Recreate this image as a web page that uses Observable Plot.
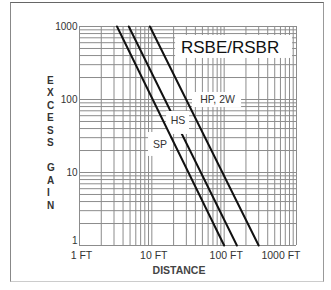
<!DOCTYPE html>
<html><head><meta charset="utf-8">
<script src="https://cdn.jsdelivr.net/npm/d3@7"></script>
<script src="https://cdn.jsdelivr.net/npm/@observablehq/plot@0.6"></script>
<style>
body{margin:0;background:#fff;font-family:Arial,"Liberation Sans",sans-serif;}
#wrap{position:relative;width:331px;height:290px;overflow:hidden;}
#border{position:absolute;left:10px;top:2px;width:312px;height:278px;border-top:1px solid #666;border-left:1px solid #888;border-right:1px solid #999;border-bottom:1px solid #ccc;pointer-events:none;}
#chart{position:absolute;left:0;top:0;}
</style></head><body><div id="wrap"><div id="chart"></div><div id="border"></div></div>
<script>
// Tick labels
const distanceTicks = [1, 10, 100, 1000];
const gainTicks = [1, 10, 100, 1000];
// Log grid lines
const gridValues = [1,2,3,4,5,6,7,8,9,10,20,30,40,50,60,70,80,90,100,200,300,400,500,600,700,800,900,1000];
// Series (endpoints)
const seriesNames = ["SP", "HS", "HP, 2W"];
const spDistance = [3.3, 100];
const spGain = [1000, 1];
const hsDistance = [4.8, 150];
const hsGain = [1000, 1];
const hpDistance = [9.4, 300];
const hpGain = [1000, 1];
// Annotations
const labelText = ["SP", "HS", "HP, 2W"];
const labelDistance = [13, 23, 81];
const labelGain = [23.8, 51.6, 98.4];
const titleText = "RSBE/RSBR";
const titleDistance = 120.6;
const titleGain = 515;
// White label boxes (data units)
const boxD1 = [21.3, 36.5, 16.0, 9.0];
const boxD2 = [883, 174, 33.2, 18.1];
const boxG1 = [365, 77.6, 33.2, 16.6];
const boxG2 = [753, 124.7, 68.5, 35.3];

const toRows = (d, g) => d.map((v, i) => ({d: v, g: g[i]}));
const sp = toRows(spDistance, spGain);
const hs = toRows(hsDistance, hsGain);
const hp = toRows(hpDistance, hpGain);
const boxes = boxD1.map((v, i) => ({d1: v, d2: boxD2[i], g1: boxG1[i], g2: boxG2[i]}));
const labels = labelText.map((t, i) => ({t, d: labelDistance[i], g: labelGain[i]}));

const font = "Arial, 'Liberation Sans', sans-serif";
const chart = Plot.plot({
  width: 331, height: 290,
  marginLeft: 79, marginRight: 35, marginTop: 26, marginBottom: 45,
  x: {type: "log", domain: [1, 1000], axis: null},
  y: {type: "log", domain: [1, 1000], axis: null},
  style: {fontFamily: font, background: "transparent"},
  marks: [
    Plot.ruleX(gridValues, {x: d => d, stroke: "#8c8c8c", strokeWidth: 1}),
    Plot.ruleY(gridValues, {y: d => d, stroke: "#8c8c8c", strokeWidth: 1}),
    Plot.line(hs, {x: "d", y: "g", stroke: "#111", strokeWidth: 2}),
    Plot.rect(boxes, {x1: "d1", x2: "d2", y1: "g1", y2: "g2", fill: "white"}),
    Plot.line(sp, {x: "d", y: "g", stroke: "#111", strokeWidth: 2}),
    Plot.line(hp, {x: "d", y: "g", stroke: "#111", strokeWidth: 2}),
    Plot.text(labels, {x: "d", y: "g", text: "t", fontSize: 10.5, fill: "#333"}),
    Plot.text([titleText], {x: () => titleDistance, y: () => titleGain, text: d => d, fontSize: 17, fill: "#111"}),
    Plot.text(gainTicks.slice(1), {y: d => d, frameAnchor: "left", textAnchor: "end", dx: -2, text: d => String(d), fontSize: 10, fill: "#333"}),
    Plot.text(gainTicks.slice(0, 1), {y: d => d, frameAnchor: "left", textAnchor: "end", dx: -2, dy: -5, text: d => String(d), fontSize: 10, fill: "#333"}),
    Plot.text(distanceTicks.slice(0, 3), {x: d => d, frameAnchor: "bottom", lineAnchor: "middle", dy: 10, dx: 2, text: d => d + " FT", fontSize: 10.5, fill: "#333"}),
    Plot.text(distanceTicks.slice(3), {x: d => d, frameAnchor: "bottom", lineAnchor: "middle", dy: 10, dx: 4, textAnchor: "end", text: d => d + " FT", fontSize: 10.5, fill: "#333"}),
    Plot.text(["DISTANCE"], {frameAnchor: "bottom", lineAnchor: "middle", dy: 25, dx: -9, text: d => d, fontSize: 10.5, fontWeight: "bold", fill: "#444"}),
    Plot.text(["E\nX\nC\nE\nS\nS\n\nG\nA\nI\nN"], {frameAnchor: "left", dx: -32.5, dy: 6, text: d => d, lineHeight: 1.25, fontSize: 10, fontWeight: "bold", fill: "#333"})
  ]
});
document.getElementById("chart").appendChild(chart);
</script>
</body></html>
